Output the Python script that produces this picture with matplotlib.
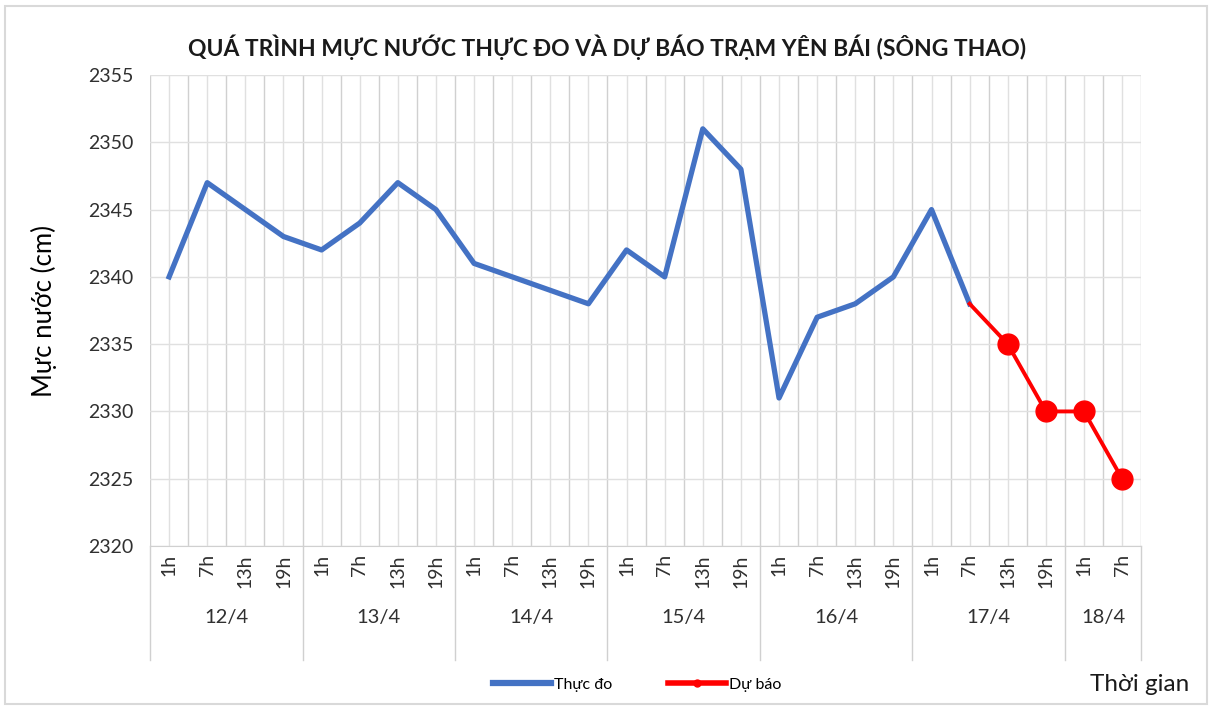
import matplotlib
matplotlib.use("Agg")
import matplotlib.pyplot as plt
import numpy as np
from matplotlib.lines import Line2D
from matplotlib.patches import Rectangle

plt.rcParams['font.family'] = ['Lato', 'DejaVu Sans']

# Dữ liệu
days = ['12/4', '13/4', '14/4', '15/4', '16/4', '17/4', '18/4']
hours_per_day = [4, 4, 4, 4, 4, 4, 2]
hour_names = ['1h', '7h', '13h', '19h']
observed = [2340, 2347, 2345, 2343,
            2342, 2344, 2347, 2345,
            2341, 2340, 2339, 2338,
            2342, 2340, 2351, 2348,
            2331, 2337, 2338, 2340,
            2345, 2338]
forecast = [2338, 2335, 2330, 2330, 2325]
forecast_start = 21  # 7h ngày 17/4

hour_labels = []
for n in hours_per_day:
    hour_labels += hour_names[:n]
n_cat = len(hour_labels)

fig = plt.figure(figsize=(12.14, 7.09), dpi=100)
ax = fig.add_axes([0.1236, 0.2299, 0.8164, 0.6643])

x_obs = np.arange(len(observed))
x_fc = np.arange(forecast_start, forecast_start + len(forecast))

ax.plot(x_obs, observed, color='#4472C4', lw=3.8, zorder=3)
ax.plot(x_fc, forecast, color='#FF0000', lw=2.8, zorder=4)
ax.plot(x_fc[1:], forecast[1:], 'o', color='#FF0000', ms=15, zorder=5)

ax.set_xlim(-0.5, n_cat - 0.5)
ax.set_ylim(2320, 2355)
ax.set_yticks(np.arange(2320, 2356, 5))

# lưới
ax.set_xticks(np.arange(n_cat))
ax.set_xticklabels(hour_labels, rotation=90, fontsize=14, color='#303030')
ax.set_xticks(np.arange(-0.5, n_cat, 1), minor=True)
ax.grid(True, which='major', axis='both', color='#e0e0e0', lw=1)
ax.grid(True, which='minor', axis='x', color='#d0d0d0', lw=1)
ax.tick_params(axis='both', which='both', length=0)
ax.tick_params(axis='x', pad=6)
ax.tick_params(axis='y', labelsize=14, labelcolor='#303030', pad=12)
ax.set_axisbelow(True)
for s in ['top', 'right', 'left']:
    ax.spines[s].set_visible(False)
ax.spines['bottom'].set_color('#d0d0d0')

# nhãn ngày + vạch phân cách
trans = ax.get_xaxis_transform()
bounds = np.concatenate([[0], np.cumsum(hours_per_day)]) - 0.5
for b in bounds:
    ax.plot([b, b], [0, -0.242], transform=trans, color='#d0d0d0', lw=1, clip_on=False)
for i, d in enumerate(days):
    ax.text((bounds[i] + bounds[i + 1]) / 2, -0.152, d, transform=trans,
            ha='center', va='center', fontsize=14.5, color='#303030')

ax.set_ylabel('Mực nước (cm)', fontsize=18.5, color='black', labelpad=22)
fig.text(0.5, 0.933, 'QUÁ TRÌNH MỰC NƯỚC THỰC ĐO VÀ DỰ BÁO TRẠM YÊN BÁI (SÔNG THAO)',
         ha='center', va='center', fontsize=16.5, fontweight='bold', color='#1a1a1a')

handles = [Line2D([], [], color='#4472C4', lw=4.5),
           Line2D([], [], color='#FF0000', lw=4, marker='o', ms=5)]
fig.legend(handles, ['Thực đo', 'Dự báo'], loc='center', bbox_to_anchor=(0.525, 0.034),
           ncol=2, frameon=False, fontsize=11.5, handlelength=3.6, handletextpad=0.2,
           columnspacing=3.5)
fig.text(0.939, 0.034, 'Thời gian', ha='center', va='center', fontsize=17.5, color='#1a1a1a')

fig.patches.append(Rectangle((0.004, 0.007), 0.99, 0.985, transform=fig.transFigure,
                             fill=False, ec='#d9d9d9', lw=1.5))

fig.savefig('out.png', dpi=100)
